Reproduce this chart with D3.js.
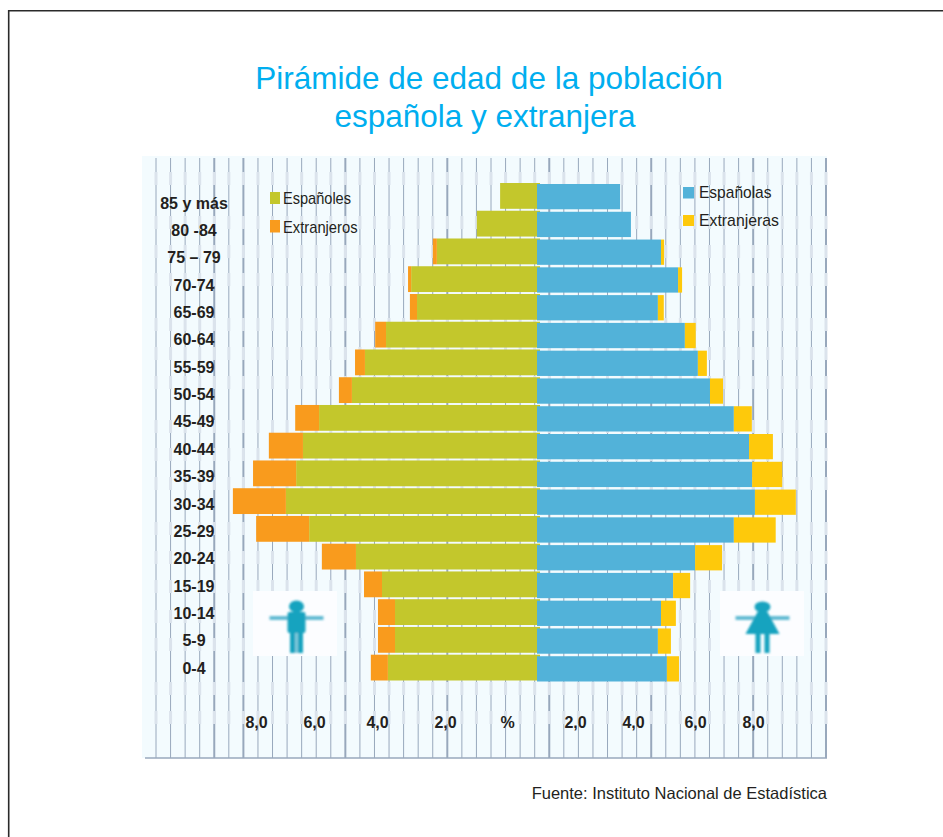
<!DOCTYPE html>
<html>
  <head>
    <meta charset="utf-8">
    <script src="https://d3js.org/d3.v7.min.js"></script>
    <style>
      body { margin: 0; background: #fff; }
      svg { display: block; }
      text { font-family: "Liberation Sans", Arial, sans-serif; fill: #231f20; }
      .axis text { font-weight: bold; font-size: 16px; fill: #231f20; }
      .axis path { display: none; }
    </style>
  </head>
  <body>
<script type="text/javascript">
// age groups, top of the pyramid first
var ages = ['85 y más', '80 -84', '75 – 79', '70-74', '65-69', '60-64', '55-59', '50-54', '45-49',
            '40-44', '35-39', '30-34', '25-29', '20-24', '15-19', '10-14', '5-9', '0-4'];

// % of population
var espanoles   = [1.19, 1.94, 3.23, 4.06, 3.87, 4.87, 5.55, 5.97, 7.03, 7.55, 7.77, 8.10, 7.35, 5.84, 5.00, 4.58, 4.58, 4.81];
var extranjeros = [0, 0, 0.13, 0.10, 0.23, 0.35, 0.32, 0.42, 0.77, 1.10, 1.39, 1.71, 1.71, 1.10, 0.58, 0.55, 0.55, 0.55];
var espanolas   = [2.68, 3.03, 4.00, 4.55, 3.90, 4.77, 5.19, 5.58, 6.35, 6.84, 6.94, 7.03, 6.35, 5.10, 4.39, 4.00, 3.90, 4.19];
var extranjeras = [0, 0, 0.10, 0.13, 0.19, 0.35, 0.29, 0.42, 0.58, 0.77, 0.97, 1.32, 1.35, 0.87, 0.55, 0.48, 0.42, 0.39];

var tickValues = [-8, -6, -4, -2, 0, 2, 4, 6, 8];
var tickLabels = ['8,0', '6,0', '4,0', '2,0', '%', '2,0', '4,0', '6,0', '8,0'];

var width = 943;
var height = 837;
var svg = d3.select('body').append('svg')
      .attr('width', width)
      .attr('height', height);

// bars share a zero at 537, the printed tick labels are not aligned with it
var x = d3.scaleLinear().domain([-10, 10]).range([227, 847]);
var xTicks = d3.scaleLinear().domain(tickValues).range([256, 314, 377, 445, 507, 575, 633, 695, 753]);
var yLeft = d3.scaleBand().domain(ages).range([183, 680.5]).paddingInner(0.07);
var yRight = d3.scaleBand().domain(ages).range([184, 681.5]).paddingInner(0.09);
var yLabels = d3.scalePoint().domain(ages).range([203, 668]);
var grid = d3.scaleLinear().domain([0, 46]).range([156, 826]);

// page frame, only top and left are there
svg.append('path')
      .attr('d', 'M8.7,837V10.7H943')
      .attr('fill', 'none')
      .attr('stroke', '#2a2a2a')
      .attr('stroke-width', 1.6);

// panel
svg.append('rect')
      .attr('x', 142).attr('y', 156)
      .attr('width', 685).attr('height', 602)
      .attr('fill', '#f3fbfe');

var thick = [4, 6, 13, 20, 27, 34, 41, 46];
var fades = [172, 216, 245, 273, 318, 347, 376, 420, 448, 477, 522, 551, 580, 610, 638, 682, 711];

svg.append('g')
      .selectAll('line')
      .data(d3.range(0, 47))
      .enter()
      .append('line')
      .attr('x1', function (d) { return grid(d); })
      .attr('x2', function (d) { return grid(d); })
      .attr('y1', 158)
      .attr('y2', 758)
      .attr('stroke', '#98a8bc')
      .attr('stroke-width', function (d) { return thick.indexOf(d) >= 0 ? 2 : 1; });

// the lines wash out to a pale smudge at these heights
var fadeG = svg.append('g');
fades.forEach(function (fy) {
  fadeG.selectAll('rect.f' + fy)
      .data(d3.range(0, 47))
      .enter()
      .append('rect')
      .attr('x', function (d) { return grid(d) - 1.5; })
      .attr('y', fy)
      .attr('width', 3)
      .attr('height', 13)
      .attr('fill', '#dbe3ec');
});

svg.append('line')
      .attr('x1', 145).attr('x2', 827)
      .attr('y1', 758).attr('y2', 758)
      .attr('stroke', '#98a8bc')
      .attr('stroke-width', 1.5);

// icon boxes and figures
var blur = svg.append('defs').append('filter').attr('id', 'soft');
blur.append('feGaussianBlur').attr('stdDeviation', 1);

[253, 720].forEach(function (bx) {
  svg.append('rect')
      .attr('x', bx).attr('y', 591)
      .attr('width', 84).attr('height', 65)
      .attr('fill', '#fcfdff');
});

var man = svg.append('g').attr('filter', 'url(#soft)').attr('transform', 'translate(296.5,0)');
man.append('rect').attr('x', -27).attr('y', 616).attr('width', 54).attr('height', 4).attr('fill', '#62bbd3');
man.append('ellipse').attr('cx', 0).attr('cy', 606.5).attr('rx', 7.5).attr('ry', 6).attr('fill', '#14a3bf');
man.append('rect').attr('x', -9).attr('y', 612).attr('width', 18).attr('height', 21).attr('rx', 2).attr('fill', '#14a3bf');
man.append('rect').attr('x', -6.5).attr('y', 633).attr('width', 13).attr('height', 20).attr('fill', '#14a3bf');
man.append('rect').attr('x', -1.5).attr('y', 633).attr('width', 3).attr('height', 20).attr('fill', '#7cc8da');

var woman = svg.append('g').attr('filter', 'url(#soft)').attr('transform', 'translate(762.5,0)');
woman.append('rect').attr('x', -27).attr('y', 616).attr('width', 54).attr('height', 4).attr('fill', '#62bbd3');
woman.append('ellipse').attr('cx', 0).attr('cy', 607).attr('rx', 8).attr('ry', 5.5).attr('fill', '#14a3bf');
woman.append('path').attr('d', 'M-5,612H5L17,634H-17Z').attr('fill', '#14a3bf');
woman.append('rect').attr('x', -7).attr('y', 633).attr('width', 5).attr('height', 20).attr('fill', '#14a3bf');
woman.append('rect').attr('x', 2).attr('y', 633).attr('width', 5).attr('height', 20).attr('fill', '#14a3bf');

// left side, men. The olive runs a little past zero under the blue bars
svg.append('g')
      .selectAll('rect')
      .data(ages)
      .enter()
      .append('rect')
      .attr('x', function (d, i) { return x(-espanoles[i]); })
      .attr('y', function (d) { return yLeft(d); })
      .attr('width', function (d, i) { return x(0) - x(-espanoles[i]) + 3; })
      .attr('height', yLeft.bandwidth())
      .attr('fill', '#c3c72c');

svg.append('g')
      .selectAll('rect')
      .data(ages)
      .enter()
      .append('rect')
      .attr('x', function (d, i) { return x(-espanoles[i] - extranjeros[i]); })
      .attr('y', function (d) { return yLeft(d); })
      .attr('width', function (d, i) { return x(-espanoles[i]) - x(-espanoles[i] - extranjeros[i]); })
      .attr('height', yLeft.bandwidth())
      .attr('fill', '#f99b1d');

// right side, women
svg.append('g')
      .selectAll('rect')
      .data(ages)
      .enter()
      .append('rect')
      .attr('x', x(0))
      .attr('y', function (d) { return yRight(d); })
      .attr('width', function (d, i) { return x(espanolas[i]) - x(0); })
      .attr('height', yRight.bandwidth())
      .attr('fill', '#52b2d9');

svg.append('g')
      .selectAll('rect')
      .data(ages)
      .enter()
      .append('rect')
      .attr('x', function (d, i) { return x(espanolas[i]); })
      .attr('y', function (d) { return yRight(d); })
      .attr('width', function (d, i) { return x(espanolas[i] + extranjeras[i]) - x(espanolas[i]); })
      .attr('height', yRight.bandwidth())
      .attr('fill', '#fec90b');

// axes
var ageAxis = svg.append('g')
      .attr('class', 'axis')
      .attr('transform', 'translate(194,0)')
      .call(d3.axisLeft(yLabels).tickSize(0).tickPadding(0));
ageAxis.selectAll('text').attr('text-anchor', 'middle');

svg.append('g')
      .attr('class', 'axis')
      .attr('transform', 'translate(0,717)')
      .call(d3.axisBottom(xTicks)
        .tickValues(tickValues)
        .tickFormat(function (d, i) { return tickLabels[i]; })
        .tickSize(0)
        .tickPadding(0));

// legends
var legends = [
  {label: 'Españoles', color: '#c3c72c', sx: 270, sy: 192, sw: 10, sh: 12, tx: 283, ty: 204, tw: 68},
  {label: 'Extranjeros', color: '#f99b1d', sx: 270, sy: 220, sw: 10, sh: 12.5, tx: 283, ty: 232.5, tw: 74.5},
  {label: 'Españolas', color: '#52b2d9', sx: 683, sy: 187, sw: 11, sh: 11.5, tx: 699, ty: 197.5, tw: 72.5},
  {label: 'Extranjeras', color: '#fec90b', sx: 683, sy: 215, sw: 11, sh: 11, tx: 699, ty: 226, tw: 80}
];
legends.forEach(function (l) {
  svg.append('rect')
      .attr('x', l.sx).attr('y', l.sy)
      .attr('width', l.sw).attr('height', l.sh)
      .attr('fill', l.color);
  svg.append('text')
      .attr('x', l.tx).attr('y', l.ty)
      .attr('font-size', 17)
      .attr('textLength', l.tw)
      .attr('lengthAdjust', 'spacingAndGlyphs')
      .text(l.label);
});

// title and source
svg.append('text')
      .attr('x', 489).attr('y', 89)
      .attr('text-anchor', 'middle')
      .attr('font-size', 31.5)
      .style('fill', '#00aeef')
      .text('Pirámide de edad de la población');
svg.append('text')
      .attr('x', 485).attr('y', 127)
      .attr('text-anchor', 'middle')
      .attr('font-size', 31.5)
      .style('fill', '#00aeef')
      .text('española y extranjera');

svg.append('text')
      .attr('x', 827).attr('y', 798.5)
      .attr('text-anchor', 'end')
      .attr('font-size', 16.5)
      .text('Fuente: Instituto Nacional de Estadística');
</script>
  </body>
</html>
